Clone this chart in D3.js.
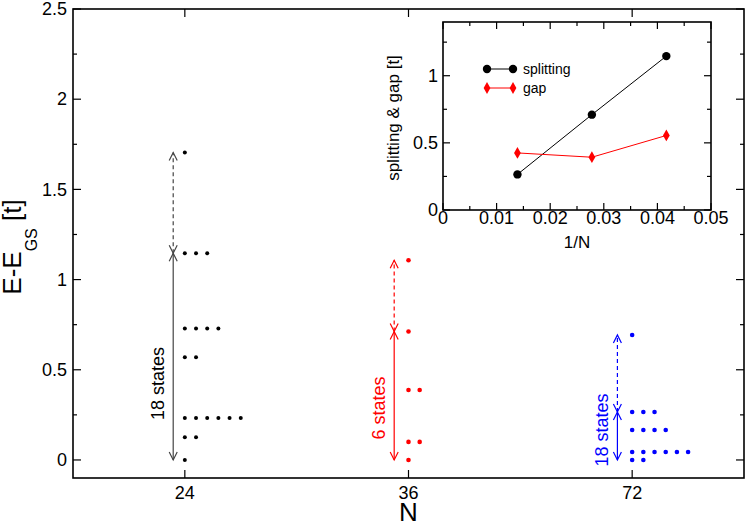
<!DOCTYPE html>
<html>
<head>
<meta charset="utf-8">
<script src="https://cdn.jsdelivr.net/npm/d3@7"></script>
<style>
  body { margin: 0; background: #fff; }
  svg { font-family: "Liberation Sans", Arial, sans-serif; }
</style>
</head>
<body>
<svg id="chart" width="747" height="528"></svg>
<script>
// ---- data ----
var sizes = ["24", "36", "72"];
var levels = [
  [0, 0.126, 0.233, 0.569, 0.729, 1.146, 1.704],
  [0, 0.10, 0.388, 0.712, 1.107],
  [0, 0.044, 0.166, 0.266, 0.693]
];
var counts = [
  [1, 2, 6, 2, 4, 3, 1],
  [1, 2, 2, 1, 1],
  [2, 6, 4, 3, 1]
];
var splitTop = [1.146, 0.712, 0.266];   // top of the low-lying manifold
var gapTop = [1.704, 1.107, 0.693];     // first state above it
var stateLabels = ["18 states", "6 states", "18 states"];
var labelY = [0.424, 0.288, 0.166];

var invN = [1 / 72, 1 / 36, 1 / 24];
var splitting = [0.265, 0.71, 1.146];
var gap = [0.425, 0.393, 0.555];

var yTicks = [0, 0.5, 1, 1.5, 2, 2.5];
var insetXTicks = [0, 0.01, 0.02, 0.03, 0.04, 0.05];
var insetYTicks = [0, 0.5, 1];

var seriesColor = ["#000", "#f00", "#00f"];
var arrowColor = ["#444", "#f00", "#00f"];
var arrowOffset = [-0.052, -0.064, -0.066];
var labelOffset = [-0.12, -0.132, -0.136];

var svg = d3.select("#chart");

// ---- main panel ----
var m = { left: 73, right: 744, top: 9, bottom: 478 };
var x = d3.scaleLinear().domain([-0.5, 2.5]).range([m.left, m.right]);
var y = d3.scaleLinear().domain([-0.1, 2.5]).range([m.bottom, m.top]);

var main = svg.append("g");

function frameTicks(g, xs, ys, x0, x1, y0, y1, xMinor, yMinor, major, minor) {
  // inward ticks on all four sides
  xs.forEach(function(v) {
    g.append("line").attr("x1", v.p).attr("x2", v.p).attr("y1", y1).attr("y2", y1 - v.len);
    g.append("line").attr("x1", v.p).attr("x2", v.p).attr("y1", y0).attr("y2", y0 + v.len);
  });
  ys.forEach(function(v) {
    g.append("line").attr("y1", v.p).attr("y2", v.p).attr("x1", x0).attr("x2", x0 + v.len);
    g.append("line").attr("y1", v.p).attr("y2", v.p).attr("x1", x1).attr("x2", x1 - v.len);
  });
  g.selectAll("line").attr("stroke", "#000").attr("stroke-width", 1.2);
  g.append("rect").attr("x", x0).attr("y", y0).attr("width", x1 - x0).attr("height", y1 - y0)
    .attr("fill", "none").attr("stroke", "#000").attr("stroke-width", 1.6);
}

var mainX = sizes.map(function(d, i) { return { p: x(i), len: 8 }; });
var mainY = d3.range(0, 2.51, 0.25).map(function(v) {
  return { p: y(v), len: (Math.round(v * 4) % 2 === 0) ? 8 : 4 };
});
frameTicks(main.append("g"), mainX, mainY, m.left, m.right, m.top, m.bottom);

main.selectAll(".ytl").data(yTicks).enter().append("text")
  .attr("x", 67).attr("y", function(d) { return y(d); }).attr("dy", "0.35em")
  .attr("text-anchor", "end").attr("font-size", 18).text(function(d) { return d; });

main.selectAll(".xtl").data(sizes).enter().append("text")
  .attr("x", function(d, i) { return x(i); }).attr("y", 499)
  .attr("text-anchor", "middle").attr("font-size", 18).text(function(d) { return d; });

main.append("text").attr("x", x(1)).attr("y", 521).attr("text-anchor", "middle")
  .attr("font-size", 26).text("N");

var yl = main.append("text").attr("transform", "translate(21,247) rotate(-90)")
  .attr("text-anchor", "middle").attr("font-size", 26);
yl.append("tspan").text("E-E");
yl.append("tspan").attr("font-size", 16).attr("dy", 16).text("GS");
yl.append("tspan").attr("dy", -16).text(" [t]");

// energy levels as dots
sizes.forEach(function(s, i) {
  var pts = [];
  levels[i].forEach(function(e, j) {
    d3.range(counts[i][j]).forEach(function(k) { pts.push({ col: k, e: e }); });
  });
  main.append("g").selectAll("circle").data(pts).enter().append("circle")
    .attr("cx", function(d) { return x(i + d.col * 0.05); })
    .attr("cy", function(d) { return y(d.e); })
    .attr("r", i === 0 ? 2 : 2.3)
    .attr("fill", seriesColor[i]);
});

// double arrows: solid for the manifold, dashed for the gap
function arrowHead(g, px, py, dir, col) {
  g.append("path")
    .attr("d", "M" + (px - 4) + "," + (py - dir * 8) + "L" + px + "," + py + "L" + (px + 4) + "," + (py - dir * 8))
    .attr("fill", "none").attr("stroke", col).attr("stroke-width", 1.2);
}
sizes.forEach(function(s, i) {
  var g = main.append("g");
  var ax = x(i + arrowOffset[i]);
  var col = arrowColor[i];
  g.append("line").attr("x1", ax).attr("x2", ax).attr("y1", y(0)).attr("y2", y(splitTop[i]))
    .attr("stroke", col).attr("stroke-width", 1.2);
  g.append("line").attr("x1", ax).attr("x2", ax).attr("y1", y(splitTop[i])).attr("y2", y(gapTop[i]))
    .attr("stroke", col).attr("stroke-width", 1.2).attr("stroke-dasharray", "4,3");
  arrowHead(g, ax, y(0), 1, col);
  arrowHead(g, ax, y(splitTop[i]), -1, col);
  arrowHead(g, ax, y(splitTop[i]), 1, col);
  arrowHead(g, ax, y(gapTop[i]), -1, col);
  g.append("text")
    .attr("transform", "translate(" + x(i + labelOffset[i]) + "," + y(labelY[i]) + ") rotate(-90)")
    .attr("text-anchor", "middle").attr("dy", "0.35em").attr("font-size", 18)
    .attr("fill", i === 0 ? "#000" : seriesColor[i]).text(stateLabels[i]);
});

// ---- inset ----
var n = { left: 443, right: 711, top: 22, bottom: 210 };
var ix = d3.scaleLinear().domain([0, 0.05]).range([n.left, n.right]);
var iy = d3.scaleLinear().domain([0, 1.4]).range([n.bottom, n.top]);
var inset = svg.append("g");

var inX = d3.range(0, 0.0501, 0.005).map(function(v, k) { return { p: ix(v), len: k % 2 === 0 ? 7 : 4 }; });
var inY = d3.range(0, 1.26, 0.25).map(function(v, k) { return { p: iy(v), len: k % 2 === 0 ? 7 : 4 }; });
frameTicks(inset.append("g"), inX, inY, n.left, n.right, n.top, n.bottom);

inset.selectAll(".ixt").data(insetXTicks).enter().append("text")
  .attr("x", function(d) { return ix(d); }).attr("y", 224)
  .attr("text-anchor", "middle").attr("font-size", 18).text(function(d) { return d; });
inset.selectAll(".iyt").data(insetYTicks).enter().append("text")
  .attr("x", 438).attr("y", function(d) { return iy(d); }).attr("dy", "0.35em")
  .attr("text-anchor", "end").attr("font-size", 18).text(function(d) { return d; });
inset.append("text").attr("x", ix(0.025)).attr("y", 248).attr("text-anchor", "middle")
  .attr("font-size", 17).text("1/N");
inset.append("text").attr("transform", "translate(399,118) rotate(-90)")
  .attr("text-anchor", "middle").attr("font-size", 17).text("splitting & gap [t]");

var line = d3.line().x(function(d) { return ix(d[0]); }).y(function(d) { return iy(d[1]); });
var splitPts = d3.zip(invN, splitting);
var gapPts = d3.zip(invN, gap);
var diamond = d3.symbol().type(d3.symbolDiamond).size(40);

inset.append("path").attr("d", line(splitPts)).attr("fill", "none").attr("stroke", "#000").attr("stroke-width", 1);
inset.append("path").attr("d", line(gapPts)).attr("fill", "none").attr("stroke", "#f00").attr("stroke-width", 1);
inset.selectAll(".sp").data(splitPts).enter().append("circle")
  .attr("cx", function(d) { return ix(d[0]); }).attr("cy", function(d) { return iy(d[1]); })
  .attr("r", 4.2).attr("fill", "#000");
inset.selectAll(".gp").data(gapPts).enter().append("path")
  .attr("transform", function(d) { return "translate(" + ix(d[0]) + "," + iy(d[1]) + ")"; })
  .attr("d", diamond).attr("fill", "#f00");

// legend
var leg = inset.append("g");
leg.append("line").attr("x1", 487).attr("x2", 513).attr("y1", 69).attr("y2", 69).attr("stroke", "#000");
[487, 513].forEach(function(p) { leg.append("circle").attr("cx", p).attr("cy", 69).attr("r", 4.2).attr("fill", "#000"); });
leg.append("text").attr("x", 523).attr("y", 74).attr("font-size", 14).text("splitting");
leg.append("line").attr("x1", 487).attr("x2", 513).attr("y1", 88).attr("y2", 88).attr("stroke", "#f00");
[487, 513].forEach(function(p) {
  leg.append("path").attr("transform", "translate(" + p + ",88)").attr("d", diamond).attr("fill", "#f00");
});
leg.append("text").attr("x", 523).attr("y", 93).attr("font-size", 14).text("gap");
</script>
</body>
</html>
